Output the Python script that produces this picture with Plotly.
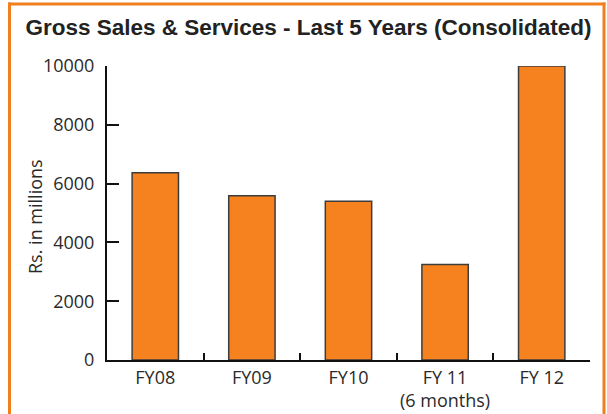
import plotly.graph_objects as go

categories = ["FY08", "FY09", "FY10", "FY 11<br>(6 months)", "FY 12"]
values = [6370, 5590, 5400, 3250, 10000]
y_ticks = [0, 2000, 4000, 6000, 8000, 10000]
y_tick_labels = ["0", "2000", "4000", "6000", "8000", "10000"]

W, H = 607, 414
L, R, T, B = 107, 590, 66, 360

def px_x(px):
    return (px - L) / (R - L)

def px_y(py):
    return (B - py) / (B - T)

fig = go.Figure(go.Bar(
    x=categories, y=values,
    marker=dict(color="#F5821F", line=dict(color="#3c3c3c", width=1.5)),
    width=0.48,
))

fig.update_layout(
    width=W, height=H,
    margin=dict(l=L, r=W - R, t=T, b=H - B, autoexpand=False),
    paper_bgcolor="white", plot_bgcolor="white",
    showlegend=False,
    title=dict(
        text="<b>Gross Sales & Services - Last 5 Years (Consolidated)</b>",
        font=dict(family="Liberation Sans, Arial", size=22.5, color="#222222"),
        xref="container", yref="container",
        x=308.5 / W, y=1 - 27 / H, xanchor="center", yanchor="middle",
    ),
    font=dict(family="Open Sans", size=17, color="#222222"),
)

fig.update_xaxes(
    type="category", automargin=False, tickangle=0,
    showline=True, linecolor="#111111", linewidth=2,
    ticks="inside", tickson="boundaries", ticklen=7, tickwidth=2, tickcolor="#111111",
    showgrid=False, zeroline=False,
    tickfont=dict(family="Open Sans", size=18, color="#2a2a2a"),
)
fig.update_yaxes(
    range=[0, 10000], tickvals=y_ticks, ticktext=y_tick_labels, automargin=False,
    showline=True, linecolor="#111111", linewidth=2,
    ticks="inside", ticklen=12, tickwidth=2, tickcolor="#111111",
    showgrid=False, zeroline=False,
    ticklabelstandoff=7,
    tickfont=dict(family="Open Sans", size=18, color="#2a2a2a"),
)

fig.add_annotation(
    text="Rs. in millions", textangle=-90,
    xref="paper", yref="paper", x=px_x(35), y=px_y(217),
    xanchor="center", yanchor="middle", showarrow=False,
    font=dict(family="Open Sans", size=18, color="#2a2a2a"),
)

border = dict(color="#F07F1E", width=3)
# top
fig.add_shape(type="line", xref="paper", yref="paper",
              x0=px_x(8), x1=px_x(605.5), y0=px_y(4), y1=px_y(4), line=border)
# left
fig.add_shape(type="line", xref="paper", yref="paper",
              x0=px_x(9.5), x1=px_x(9.5), y0=px_y(2.5), y1=px_y(420), line=border)
# right
fig.add_shape(type="line", xref="paper", yref="paper",
              x0=px_x(604), x1=px_x(604), y0=px_y(2.5), y1=px_y(420), line=border)

fig.write_html(
    "out.html",
    config={"displayModeBar": False},
    post_script="document.body.style.margin='0';document.body.style.overflow='hidden';",
)
